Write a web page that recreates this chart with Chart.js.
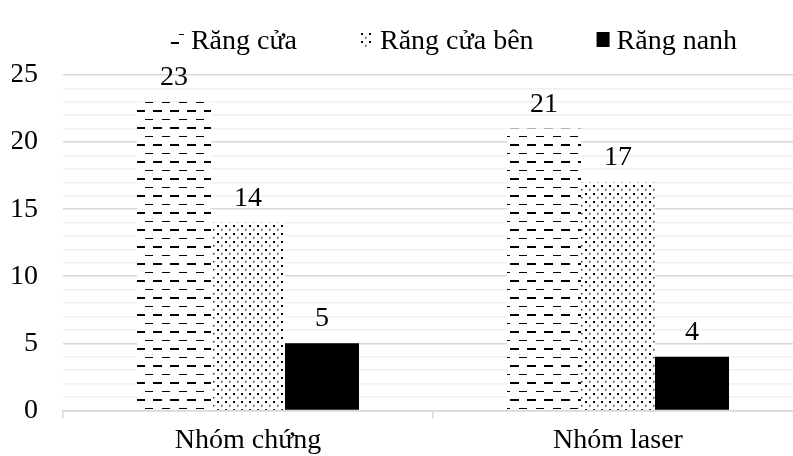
<!DOCTYPE html>
<html>
<head>
  <title>Răng cửa / Răng nanh</title>
  <script src="https://cdn.jsdelivr.net/npm/chart.js"></script>
</head>
<body style="margin:0;background:#fff;overflow:hidden;">
  <div style="position:relative;width:803px;height:456px;">
    <canvas id="toothChart"></canvas>
  </div>

  <script>
    const groups = ['Nhóm chứng', 'Nhóm laser'];
    const seriesNames = ['Răng cửa', 'Răng cửa bên', 'Răng nanh'];
    const rangCua = [23, 21];
    const rangCuaBen = [14, 17];
    const rangNanh = [5, 4];
    const yTicks = [0, 5, 10, 15, 20, 25];

    const FONT = 'Liberation Serif, Times New Roman, serif';
    const FS = 28;

    // pattern tiles
    function dashPattern() {
      const c = document.createElement('canvas');
      c.width = 17; c.height = 17;
      const g = c.getContext('2d');
      g.fillStyle = '#fff';
      g.fillRect(0, 0, 17, 17);
      g.fillStyle = '#000';
      g.fillRect(0, 8, 9, 2);
      g.fillRect(9, 0, 8, 1);
      return g.createPattern(c, 'repeat');
    }

    function dotPattern() {
      const c = document.createElement('canvas');
      c.width = 8; c.height = 8;
      const g = c.getContext('2d');
      g.fillStyle = '#fff';
      g.fillRect(0, 0, 8, 8);
      g.fillStyle = '#000';
      g.fillRect(1, 1, 2, 2);
      g.fillStyle = '#333';
      g.fillRect(5, 5, 1.5, 1.5);
      return g.createPattern(c, 'repeat');
    }

    // numbers above bars
    const valueLabels = {
      id: 'valueLabels',
      afterDatasetsDraw(chart) {
        const ctx = chart.ctx;
        ctx.save();
        ctx.font = FS + 'px ' + FONT;
        ctx.fillStyle = '#000';
        ctx.textAlign = 'center';
        ctx.textBaseline = 'alphabetic';
        chart.data.datasets.forEach((ds, i) => {
          chart.getDatasetMeta(i).data.forEach((bar, j) => {
            ctx.fillText(ds.data[j], bar.x, bar.y - 17);
          });
        });
        ctx.restore();
      }
    };

    // legend drawn by hand, Excel style spacing
    const topLegend = {
      id: 'topLegend',
      afterDraw(chart) {
        const ctx = chart.ctx;
        const box = 13, gap = 7, itemGap = 63, cx = 454, base = 49;
        ctx.save();
        ctx.font = FS + 'px ' + FONT;
        ctx.textBaseline = 'alphabetic';
        const items = chart.data.datasets.map(ds => ({
          text: ds.label, fill: ds.backgroundColor, w: ctx.measureText(ds.label).width
        }));
        const total = items.reduce((s, it) => s + box + gap + it.w, 0) + itemGap * (items.length - 1);
        let x = cx - total / 2;
        items.forEach(it => {
          ctx.fillStyle = it.fill;
          ctx.fillRect(x, base - 17, box, 15);
          ctx.fillStyle = '#000';
          ctx.textAlign = 'left';
          ctx.fillText(it.text, x + box + gap, base);
          x += box + gap + it.w + itemGap;
        });
        ctx.restore();
      }
    };

    new Chart(document.getElementById('toothChart'), {
      type: 'bar',
      data: {
        labels: groups,
        datasets: [
          { label: seriesNames[0], data: rangCua, backgroundColor: dashPattern(), borderWidth: 0 },
          { label: seriesNames[1], data: rangCuaBen, backgroundColor: dotPattern(), borderWidth: 0 },
          { label: seriesNames[2], data: rangNanh, backgroundColor: '#000', borderWidth: 0 }
        ]
      },
      options: {
        responsive: true,
        maintainAspectRatio: false,
        animation: false,
        categoryPercentage: 0.6,
        barPercentage: 1,
        layout: { padding: { left: 12, right: 0, top: 75, bottom: -6 } },
        plugins: {
          legend: { display: false },
          tooltip: { enabled: false }
        },
        scales: {
          x: {
            grid: {
              drawOnChartArea: false,
              drawTicks: true,
              tickLength: 8,
              color: '#d9d9d9',
              lineWidth: 1.5
            },
            border: { color: '#d9d9d9', width: 1.5 },
            ticks: {
              color: '#000',
              font: { family: FONT, size: FS },
              padding: 5
            }
          },
          y: {
            min: 0,
            max: 25,
            border: { display: false },
            afterFit: s => { s.width = 51; },
            grid: {
              drawTicks: false,
              color: ctx => (yTicks.includes(ctx.tick.value) ? '#d9d9d9' : '#f0f0f0'),
              lineWidth: 1.5
            },
            ticks: {
              stepSize: 1,
              autoSkip: false,
              color: '#000',
              font: { family: FONT, size: FS },
              padding: 25,
              callback: v => (yTicks.includes(v) ? v : '')
            }
          }
        }
      },
      plugins: [valueLabels, topLegend]
    });
  </script>
</body>
</html>
